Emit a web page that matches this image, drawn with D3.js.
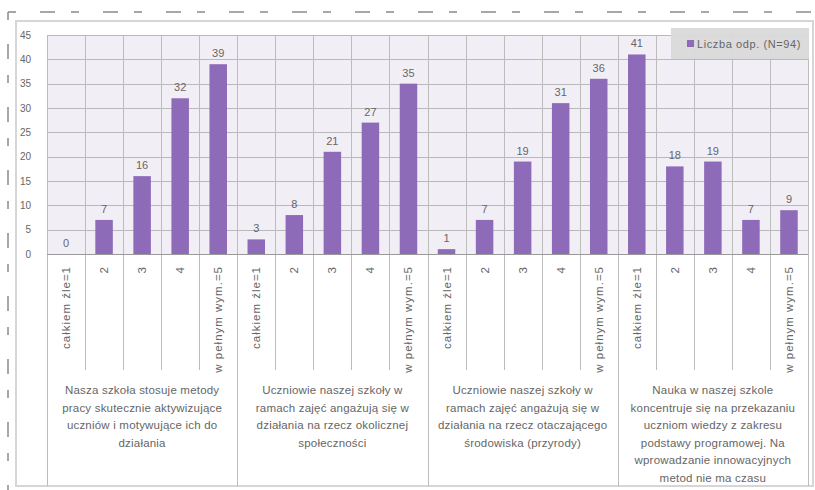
<!DOCTYPE html>
<html>
<head>
<meta charset="utf-8">
<script src="https://cdn.jsdelivr.net/npm/d3@7"></script>
<style>
  body { margin: 0; background: #fff; }
  svg { display: block; font-family: "Liberation Sans", Arial, sans-serif; }
</style>
</head>
<body>
<div id="chart"></div>
<script>
// values, one array per question
const answers = ["całkiem źle=1", "2", "3", "4", "w pełnym wym.=5"]
const q1Values = [0, 7, 16, 32, 39]
const q2Values = [3, 8, 21, 27, 35]
const q3Values = [1, 7, 19, 31, 36]
const q4Values = [41, 18, 19, 7, 9]
const groupLabels = [
    ["Nasza szkoła stosuje metody", "pracy skutecznie aktywizujące", "uczniów i motywujące ich do", "działania"],
    ["Uczniowie naszej szkoły w", "ramach zajęć angażują się w", "działania na rzecz okolicznej", "społeczności"],
    ["Uczniowie naszej szkoły w", "ramach zajęć angażują się w", "działania na rzecz otaczającego", "środowiska (przyrody)"],
    ["Nauka w naszej szkole", "koncentruje się na przekazaniu", "uczniom wiedzy z zakresu", "podstawy programowej. Na", "wprowadzanie innowacyjnych", "metod nie ma czasu"]
]
const yTicks = [0, 5, 10, 15, 20, 25, 30, 35, 40, 45]
const seriesName = "Liczba odp. (N=94)"

// flatten into one row per bar
let rows = []
;[q1Values, q2Values, q3Values, q4Values].forEach((vals, g) => {
    vals.forEach((v, i) => rows.push({id: g * 5 + i, group: g, answer: answers[i], value: v}))
})

const W = 815, H = 490
const plot = {left: 47, right: 808, top: 35, bottom: 254}
const tableBottom = 486

const svg = d3.select("#chart").append("svg")
    .attr("width", W)
    .attr("height", H)

// dashed crop marks (top and left)
svg.append("line")
    .attr("x1", 8).attr("y1", 12).attr("x2", 812).attr("y2", 12)
    .attr("stroke", "#8a8a8a").attr("stroke-width", 1.5)
    .attr("stroke-dasharray", "8,24,15,16")
svg.append("line")
    .attr("x1", 8).attr("y1", 12).attr("x2", 8).attr("y2", 490)
    .attr("stroke", "#8a8a8a").attr("stroke-width", 1.5)
    .attr("stroke-dasharray", "8,24,15,16")

// outer chart box
svg.append("rect")
    .attr("x", 16).attr("y", 21)
    .attr("width", 797).attr("height", tableBottom - 21)
    .attr("fill", "#fff")
    .attr("stroke", "#d6d6d6").attr("stroke-width", 2)

// scales
const x = d3.scaleBand()
    .domain(rows.map(d => d.id))
    .range([plot.left, plot.right])
const y = d3.scaleLinear()
    .domain([0, 45])
    .range([plot.bottom, plot.top])

// plot background
svg.append("rect")
    .attr("x", plot.left).attr("y", plot.top)
    .attr("width", plot.right - plot.left).attr("height", plot.bottom - plot.top)
    .attr("fill", "#f2eef6")

// horizontal grid lines
svg.append("g").selectAll("line")
    .data(yTicks)
    .enter().append("line")
    .attr("x1", plot.left).attr("x2", plot.right)
    .attr("y1", d => Math.round(y(d)) + 0.5).attr("y2", d => Math.round(y(d)) + 0.5)
    .attr("stroke", "#b9b9b9")

// vertical grid lines at every category border (plot + table)
const borders = rows.map(d => x(d.id)).concat([plot.right])
svg.append("g").selectAll("line")
    .data(borders)
    .enter().append("line")
    .attr("x1", d => Math.round(d) + 0.5).attr("x2", d => Math.round(d) + 0.5)
    .attr("y1", plot.top)
    .attr("y2", (d, i) => (i % 5 === 0) ? tableBottom : 370)
    .attr("stroke", "#bcbcbc")

// y axis labels
const yAxis = d3.axisLeft(y).tickValues(yTicks).tickSize(0).tickPadding(0)
svg.append("g")
    .attr("transform", "translate(31,0)")
    .call(yAxis)
    .call(g => g.select(".domain").remove())
    .selectAll("text")
    .attr("font-family", "Liberation Sans, Arial, sans-serif")
    .attr("font-size", 10)
    .attr("fill", "#666")

// bars
const barW = x.bandwidth() * 0.46
svg.append("g").selectAll("rect")
    .data(rows)
    .enter().append("rect")
    .attr("x", d => x(d.id) + (x.bandwidth() - barW) / 2)
    .attr("y", d => y(d.value))
    .attr("width", barW)
    .attr("height", d => y(0) - y(d.value))
    .attr("fill", "#8d6bb8")

// value labels
svg.append("g").selectAll("text")
    .data(rows)
    .enter().append("text")
    .attr("x", d => x(d.id) + x.bandwidth() / 2)
    .attr("y", d => y(d.value) - 7)
    .attr("text-anchor", "middle")
    .attr("font-size", 11)
    .attr("fill", "#666")
    .text(d => d.value)

// x axis line
svg.append("line")
    .attr("x1", plot.left).attr("x2", plot.right)
    .attr("y1", plot.bottom + 0.5).attr("y2", plot.bottom + 0.5)
    .attr("stroke", "#9a9a9a")

// rotated answer labels
svg.append("g").selectAll("text")
    .data(rows)
    .enter().append("text")
    .attr("transform", d => `translate(${x(d.id) + x.bandwidth() / 2 + 4}, 266) rotate(-90)`)
    .attr("text-anchor", "end")
    .attr("font-size", 11.5)
    .attr("letter-spacing", 1)
    .attr("fill", "#666")
    .text(d => d.answer)

// question labels under each group
const groupX = d3.scaleBand().domain(d3.range(4)).range([plot.left, plot.right])
const qLabels = svg.append("g").selectAll("text")
    .data(groupLabels)
    .enter().append("text")
    .attr("text-anchor", "middle")
    .attr("font-size", 11.5)
    .attr("letter-spacing", 0.2)
    .attr("fill", "#666")
qLabels.selectAll("tspan")
    .data((d, g) => d.map(line => ({line, g})))
    .enter().append("tspan")
    .attr("x", d => groupX(d.g) + groupX.bandwidth() / 2)
    .attr("y", (d, i) => 394 + i * 17.5)
    .text(d => d.line)

// legend
const legend = svg.append("g").attr("transform", "translate(671,28)")
legend.append("rect")
    .attr("width", 138).attr("height", 31)
    .attr("fill", "#d9d9d9").attr("opacity", 0.95)
legend.append("rect")
    .attr("x", 16).attr("y", 12).attr("width", 7).attr("height", 7)
    .attr("fill", "#8d6bb8")
legend.append("text")
    .attr("x", 26).attr("y", 19.5)
    .attr("font-size", 11)
    .attr("letter-spacing", 0.6)
    .attr("fill", "#666")
    .text(seriesName)
</script>
</body>
</html>
